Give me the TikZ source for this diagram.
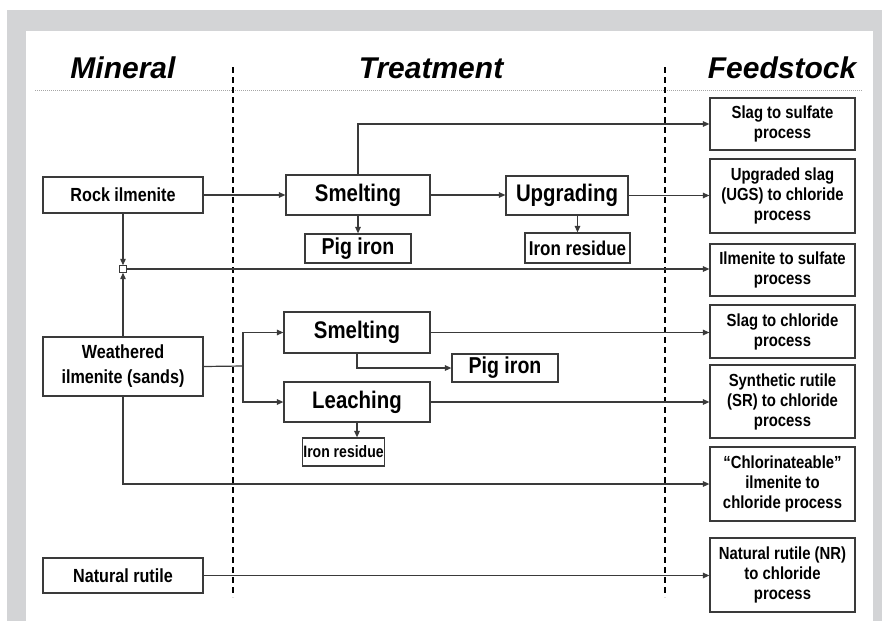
\documentclass[tikz,border=0pt]{standalone}
\usepackage{fontspec}
\setmainfont{Liberation Sans}
\newfontfamily\narrowsans[FakeStretch=0.85]{Liberation Sans}
\usetikzlibrary{arrows.meta}
\definecolor{framegray}{HTML}{D3D4D6}
\definecolor{linegray}{HTML}{3A3A3A}
\tikzset{
  basebox/.style={draw=linegray, line width=1.2pt, fill=white, inner sep=0pt,
    align=center, text=black},
  minbox/.style={basebox, minimum width=160pt, font=\narrowsans\bfseries\fontsize{19}{25}\selectfont},
  feedbox/.style={basebox, minimum width=145pt, font=\narrowsans\bfseries\fontsize{17.5}{20}\selectfont},
  treatbox/.style={basebox, font=\narrowsans\bfseries\fontsize{24}{28}\selectfont},
  outbox/.style={basebox},
  header/.style={anchor=base, font=\bfseries\itshape\fontsize{30}{34}\selectfont},
  arr/.style={draw=linegray, line width=1.2pt, -{Triangle[length=6.5pt,width=5.5pt]}},
  link/.style={draw=linegray, line width=1.2pt},
  divider/.style={draw=black, line width=1.6pt, dash pattern=on 6pt off 4pt}
}
\begin{document}
\begin{tikzpicture}[x=1pt,y=-1pt]
\useasboundingbox (0,0) rectangle (882,621);
% page and frame
\fill[white] (0,0) rectangle (882,621);
\fill[framegray] (7,10) rectangle (882,621);
\fill[white] (26,31) rectangle (873,621);

% column headings
\node[header] (hmin) at (123,78) {Mineral};
\node[header] (htreat) at (431,78) {Treatment};
\node[header] (hfeed) at (782,78) {Feedstock};
\draw[gray!70, line width=0.8pt, dash pattern=on 1pt off 1pt] (35,90) -- (862,90);

% column separators
\draw[divider] (233,67) -- (233,597);
\draw[divider] (665,67) -- (665,597);

% minerals
\node[minbox, minimum height=36pt] (rock) at (123,195) {Rock ilmenite};
\node[minbox, minimum height=59pt] (weath) at (123,366.5) {Weathered\\ilmenite (sands)};
\node[minbox, minimum height=35pt] (nat) at (123,575.5) {Natural rutile};

% treatments
\node[treatbox, minimum width=144pt, minimum height=40pt] (smelt1) at (358,195) {Smelting};
\node[treatbox, minimum width=122pt, minimum height=39pt] (upg) at (567,195.5) {Upgrading};
\node[outbox, minimum width=106pt, minimum height=29pt, font=\narrowsans\bfseries\fontsize{23}{26}\selectfont] (pig1) at (358,248.5) {Pig iron};
\node[outbox, minimum width=105pt, minimum height=30pt, font=\narrowsans\bfseries\fontsize{20}{24}\selectfont] (res1) at (577.5,248) {Iron residue};
\node[treatbox, minimum width=146pt, minimum height=41pt] (smelt2) at (357,332.5) {Smelting};
\node[treatbox, minimum width=146pt, minimum height=40pt] (leach) at (357,402) {Leaching};
\node[outbox, minimum width=106pt, minimum height=28pt, font=\narrowsans\bfseries\fontsize{23}{26}\selectfont] (pig2) at (505,368) {Pig iron};
\node[outbox, minimum width=82pt, minimum height=28pt, font=\narrowsans\bfseries\fontsize{16.5}{20}\selectfont] (res2) at (343.5,452) {Iron residue};

% feedstocks
\node[feedbox, minimum height=52pt] (slagsulf) at (782.5,124) {Slag to sulfate\\process};
\node[feedbox, minimum height=74pt] (ugs) at (782.5,196) {Upgraded slag\\(UGS) to chloride\\process};
\node[feedbox, minimum height=52pt] (ilmsulf) at (782.5,270) {Ilmenite to sulfate\\process};
\node[feedbox, minimum height=53pt] (slagchl) at (782.5,331.5) {Slag to chloride\\process};
\node[feedbox, minimum height=73pt] (sr) at (782.5,401.5) {Synthetic rutile\\(SR) to chloride\\process};
\node[feedbox, minimum height=74pt] (chlor) at (782.5,484) {“Chlorinateable”\\ilmenite to\\chloride process};
\node[feedbox, minimum height=74pt] (nr) at (782.5,575) {Natural rutile (NR)\\to chloride\\process};

% junction of the two ilmenite streams
\node[draw=linegray, fill=white, line width=0.9pt, minimum size=6.5pt, inner sep=0pt] (jn) at (123,269) {};
\coordinate (br) at (243,366);

% rock ilmenite route
\draw[arr] (rock.east) -- (rock.east -| smelt1.west);
\draw[arr] (smelt1.east) -- (smelt1.east -| upg.west);
\draw[arr] (upg.east) -- (upg.east -| ugs.west);
\draw[arr] (smelt1.north) |- (slagsulf.west);
\draw[arr] (smelt1.south) -- (pig1.north);
\draw[arr] (res1.north |- upg.south) -- (res1.north);

% ilmenite direct to sulfate
\draw[arr] (rock.south) -- (jn.north);
\draw[arr] (weath.north) -- (jn.south);
\draw[arr] (jn.east) -- (jn.east -| ilmsulf.west);

% weathered ilmenite route
\draw[link] (weath.east) -- (br);
\draw[arr] (br) |- (smelt2.west);
\draw[arr] (br) |- (leach.west);
\draw[arr] (smelt2.east) -- (smelt2.east -| slagchl.west);
\draw[arr] (smelt2.south) |- (pig2.west);
\draw[arr] (leach.east) -- (leach.east -| sr.west);
\draw[arr] (leach.south) -- (leach.south |- res2.north);
\draw[arr] (weath.south) |- (chlor.west);

% natural rutile
\draw[arr] (nat.east) -- (nat.east -| nr.west);
\end{tikzpicture}
\end{document}
